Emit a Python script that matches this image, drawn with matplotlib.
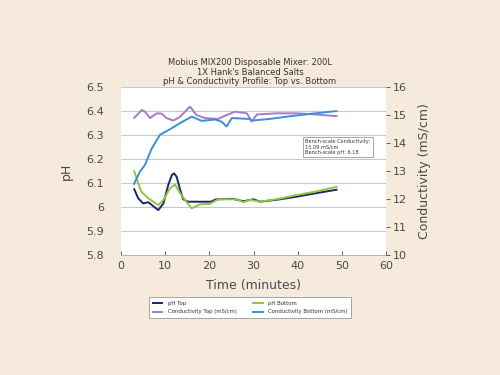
import matplotlib
matplotlib.use("Agg")
import matplotlib.pyplot as plt

# pH Top
t_ph_top = [3.0, 3.9, 5.0, 6.2, 7.0, 8.45, 9.6, 10.7, 11.5, 12.0, 12.6, 13.4, 14.1, 15.2, 20.4, 21.5, 25.4, 27.7, 30.0, 31.5, 36, 39.8, 44, 48.8]
ph_top = [6.074, 6.036, 6.015, 6.02, 6.008, 5.987, 6.015, 6.092, 6.133, 6.14, 6.126, 6.071, 6.032, 6.022, 6.022, 6.032, 6.034, 6.024, 6.032, 6.022, 6.032, 6.043, 6.057, 6.072]
# pH Bottom
t_ph_bot = [3.0, 3.9, 4.6, 6.2, 8.45, 9.6, 11.1, 12.2, 13.4, 14.5, 16.0, 17.9, 20.1, 22.0, 26.2, 27.7, 29.2, 31.5, 36, 39.8, 44, 48.8]
ph_bot = [6.149, 6.099, 6.064, 6.036, 6.008, 6.029, 6.078, 6.094, 6.057, 6.029, 5.995, 6.011, 6.013, 6.032, 6.032, 6.02, 6.03, 6.022, 6.035, 6.05, 6.064, 6.084]
# Conductivity Top (mS/cm)
t_c_top = [3.0, 4.7, 5.4, 6.6, 8.1, 9.2, 10.3, 11.85, 13.4, 15.6, 17.1, 19.0, 22.0, 23.5, 25.8, 28.5, 29.6, 30.8, 35.2, 39.8, 44, 48.8]
c_top = [14.90, 15.18, 15.12, 14.89, 15.06, 15.05, 14.89, 14.80, 14.94, 15.30, 15.00, 14.89, 14.86, 14.97, 15.12, 15.06, 14.77, 15.02, 15.06, 15.06, 15.02, 14.96]
# Conductivity Bottom (mS/cm)
t_c_bot = [2.95, 4.3, 5.4, 6.95, 8.8, 11.5, 13.7, 16.0, 18.3, 21.3, 22.8, 23.9, 25.1, 29.0, 29.6, 33.7, 37.5, 42.8, 48.8]
c_bot = [12.54, 12.98, 13.21, 13.80, 14.29, 14.53, 14.74, 14.94, 14.79, 14.84, 14.76, 14.59, 14.89, 14.86, 14.80, 14.86, 14.94, 15.04, 15.14]

bg = "#F6EADD"
fig = plt.figure(figsize=(5, 3.75), dpi=100, facecolor=bg)
ax = fig.add_axes([0.242, 0.32, 0.53, 0.448])
ax.set_facecolor("white")
ax2 = ax.twinx()

txt = "#4A4A4A"
c_navy = "#1E2569"
c_green = "#8DC63F"
c_purple = "#A57BC9"
c_blue = "#3A8FDB"

lw = 1.4
l1, = ax.plot(t_ph_top, ph_top, color=c_navy, lw=lw, label="pH Top", zorder=3)
l2, = ax.plot(t_ph_bot, ph_bot, color=c_green, lw=lw, label="pH Bottom", zorder=3)
l3, = ax2.plot(t_c_top, c_top, color=c_purple, lw=lw, label="Conductivity Top (mS/cm)")
l4, = ax2.plot(t_c_bot, c_bot, color=c_blue, lw=lw, label="Conductivity Bottom (mS/cm)")

ax.set_xlim(0, 60)
ax.set_ylim(5.8, 6.5)
ax2.set_ylim(10, 16)
ax.set_xticks(range(0, 61, 10))
ax.set_yticks([5.8, 5.9, 6.0, 6.1, 6.2, 6.3, 6.4, 6.5])
ax.set_yticklabels(["5.8", "5.9", "6", "6.1", "6.2", "6.3", "6.4", "6.5"])
ax2.set_yticks(range(10, 17))
ax.grid(axis="y", color="#B9CBDA", lw=0.8)
ax.set_axisbelow(True)

for a in (ax, ax2):
    for s in a.spines.values():
        s.set_visible(False)
ax.spines["bottom"].set_visible(True)
ax.spines["bottom"].set_color("#AAAAAA")
ax.spines["bottom"].set_linewidth(0.6)
ax.tick_params(axis="x", colors=txt, labelsize=8, length=3, width=0.6, direction="in", pad=4)
ax.tick_params(axis="y", colors=txt, labelsize=8, length=0, pad=12)
ax2.tick_params(axis="y", colors=txt, labelsize=8, length=3, width=0.6, pad=2)

ax.set_ylabel("pH", color=txt, fontsize=9, labelpad=10)
ax2.set_ylabel("Conductivity (mS/cm)", color=txt, fontsize=9, labelpad=8)
ax.set_xlabel("Time (minutes)", color=txt, fontsize=9, labelpad=6)

fig.text(0.5, 0.833, "Mobius MIX200 Disposable Mixer: 200L", ha="center", va="center", fontsize=6, color="#333333")
fig.text(0.5, 0.807, "1X Hank's Balanced Salts", ha="center", va="center", fontsize=6, color="#333333")
fig.text(0.5, 0.782, "pH & Conductivity Profile: Top vs. Bottom", ha="center", va="center", fontsize=6, color="#333333")

ax.text(0.695, 0.69,
        "Bench-scale Conductivity:\n15.09 mS/cm\nBench-scale pH: 6.18",
        transform=ax.transAxes, fontsize=3.6, color="#333333", va="top", ha="left",
        linespacing=1.1, zorder=5,
        bbox=dict(boxstyle="square,pad=0.5", fc="white", ec="#999999", lw=0.6))

leg = fig.legend([l1, l3, l2, l4],
                 ["pH Top", "Conductivity Top (mS/cm)", "pH Bottom", "Conductivity Bottom (mS/cm)"],
                 ncol=2, loc="center", bbox_to_anchor=(0.5, 0.179), fontsize=3.9,
                 frameon=True, fancybox=False, edgecolor="#999999", framealpha=1,
                 handlelength=1.8, columnspacing=3.0, handletextpad=1.0, labelspacing=0.6,
                 borderpad=0.7)
leg.get_frame().set_linewidth(0.6)
for t in leg.get_texts():
    t.set_color("#333333")

fig.savefig("out.png", dpi=100, facecolor=bg)
